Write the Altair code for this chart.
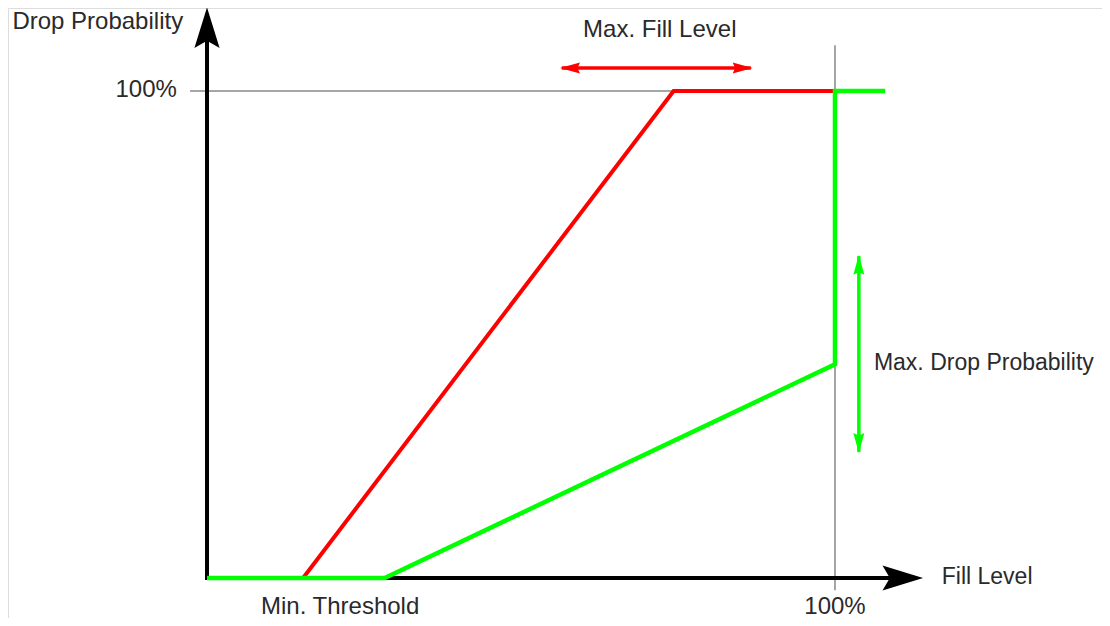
import altair as alt
import pandas as pd

# ---- data (in chart units: fill level %, drop probability %) ----
red_x = [0, 15.3, 74.3, 100]
red_y = [0, 0, 100, 100]
green_x = [0, 28.3, 100, 100, 108]
green_y = [0, 0, 43.9, 100, 100]

# reference grid lines
grid_h = {"x": -2.7, "x2": 100, "y": 100, "y2": 100}
grid_v = {"x": 100, "x2": 100, "y": -2.5, "y2": 109.4}

# axes (with arrowheads)
axis_x = {"x": -0.3, "x2": 109.5, "y": 0, "y2": 0}
axis_y = {"x": 0, "x2": 0, "y": -0.4, "y2": 110.8}
axis_heads_x = [110.8, 0]
axis_heads_y = [0, 113.0]
axis_heads_angle = [90, 0]

# annotation arrows
red_arrow = {"x": 56.5, "x2": 86.6, "y": 104.7, "y2": 104.7}
red_heads_x = [57.8, 85.3]
red_heads_y = [104.7, 104.7]
red_heads_angle = [270, 90]
green_arrow = {"x": 103.8, "x2": 103.8, "y": 25.9, "y2": 66.1}
green_heads_x = [103.8, 103.8]
green_heads_y = [64.3, 27.7]
green_heads_angle = [0, 180]

# labels
left_labels = ["Max. Drop Probability", "Fill Level"]
left_x = [106.2, 117.0]
left_y = [44.1, 0.2]
center_labels = ["Max. Fill Level", "100%", "Min. Threshold"]
center_x = [72.1, 100, 21.2]
center_y = [112.5, -5.9, -5.9]
right_labels = ["Drop Probability", "100%"]
right_x = [-3.8, -4.8]
right_y = [114.2, 100.2]

X_DOMAIN = [-31.69, 142.52]
Y_DOMAIN = [-8.21, 117.04]
FONT = "Liberation Sans"
FS = 24
TXT = "#2a2a2a"

xs = alt.Scale(domain=X_DOMAIN, nice=False, zero=False)
ys = alt.Scale(domain=Y_DOMAIN, nice=False, zero=False)


def X(f="x"):
    return alt.X(f"{f}:Q", scale=xs, axis=None)


def Y(f="y"):
    return alt.Y(f"{f}:Q", scale=ys, axis=None)


def rule(d, color, width):
    return alt.Chart(pd.DataFrame([d])).mark_rule(color=color, strokeWidth=width).encode(
        x=X(), x2="x2:Q", y=Y(), y2="y2:Q"
    )


BIG = "M0,-1L0.62,1L0,0.64L-0.62,1Z"
SMALL = "M0,-1L0.55,1L0,0.75L-0.55,1Z"


def heads(xv, yv, av, shape, size, color):
    df = pd.DataFrame({"x": xv, "y": yv, "angle": av})
    return alt.Chart(df).mark_point(
        shape=shape, filled=True, size=size, color=color, opacity=1, strokeWidth=0
    ).encode(x=X(), y=Y(), angle=alt.Angle("angle:Q", scale=None))


lines_df = pd.concat([
    pd.DataFrame({"x": red_x, "y": red_y, "series": "red", "o": range(len(red_x))}),
    pd.DataFrame({"x": green_x, "y": green_y, "series": "green", "o": range(len(green_x))}),
])

red_line = alt.Chart(lines_df[lines_df.series == "red"]).mark_line(
    color="#ff0000", strokeWidth=4, strokeJoin="miter"
).encode(x=X(), y=Y(), order="o:Q")
green_line = alt.Chart(lines_df[lines_df.series == "green"]).mark_line(
    color="#00ff00", strokeWidth=4.5, strokeJoin="miter"
).encode(x=X(), y=Y(), order="o:Q")


def texts(labels, xv, yv, align, fs=FS):
    df = pd.DataFrame({"label": labels, "x": xv, "y": yv})
    return alt.Chart(df).mark_text(
        align=align, baseline="middle", font=FONT, fontSize=fs, color=TXT
    ).encode(x=X(), y=Y(), text="label:N")


chart = alt.layer(
    rule(grid_h, "#888888", 1.5),
    rule(grid_v, "#888888", 1.5),
    rule(axis_x, "#000000", 4),
    rule(axis_y, "#000000", 4),
    heads(axis_heads_x, axis_heads_y, axis_heads_angle, BIG, 1650, "#000000"),
    red_line,
    green_line,
    rule(red_arrow, "#ff0000", 3.5),
    heads(red_heads_x, red_heads_y, red_heads_angle, SMALL, 400, "#ff0000"),
    rule(green_arrow, "#00ff00", 3.5),
    heads(green_heads_x, green_heads_y, green_heads_angle, SMALL, 400, "#00ff00"),
    texts(left_labels, left_x, left_y, "left", 23),
    texts(center_labels, center_x, center_y, "center"),
    texts(right_labels, right_x, right_y, "right"),
).properties(
    width=1094, height=610, autosize=alt.AutoSizeParams(type="none"), padding=0
).configure_view(strokeWidth=0, stroke="transparent").configure(background="white")

chart.save("out.html", embed_options={"renderer": "svg", "actions": False})
